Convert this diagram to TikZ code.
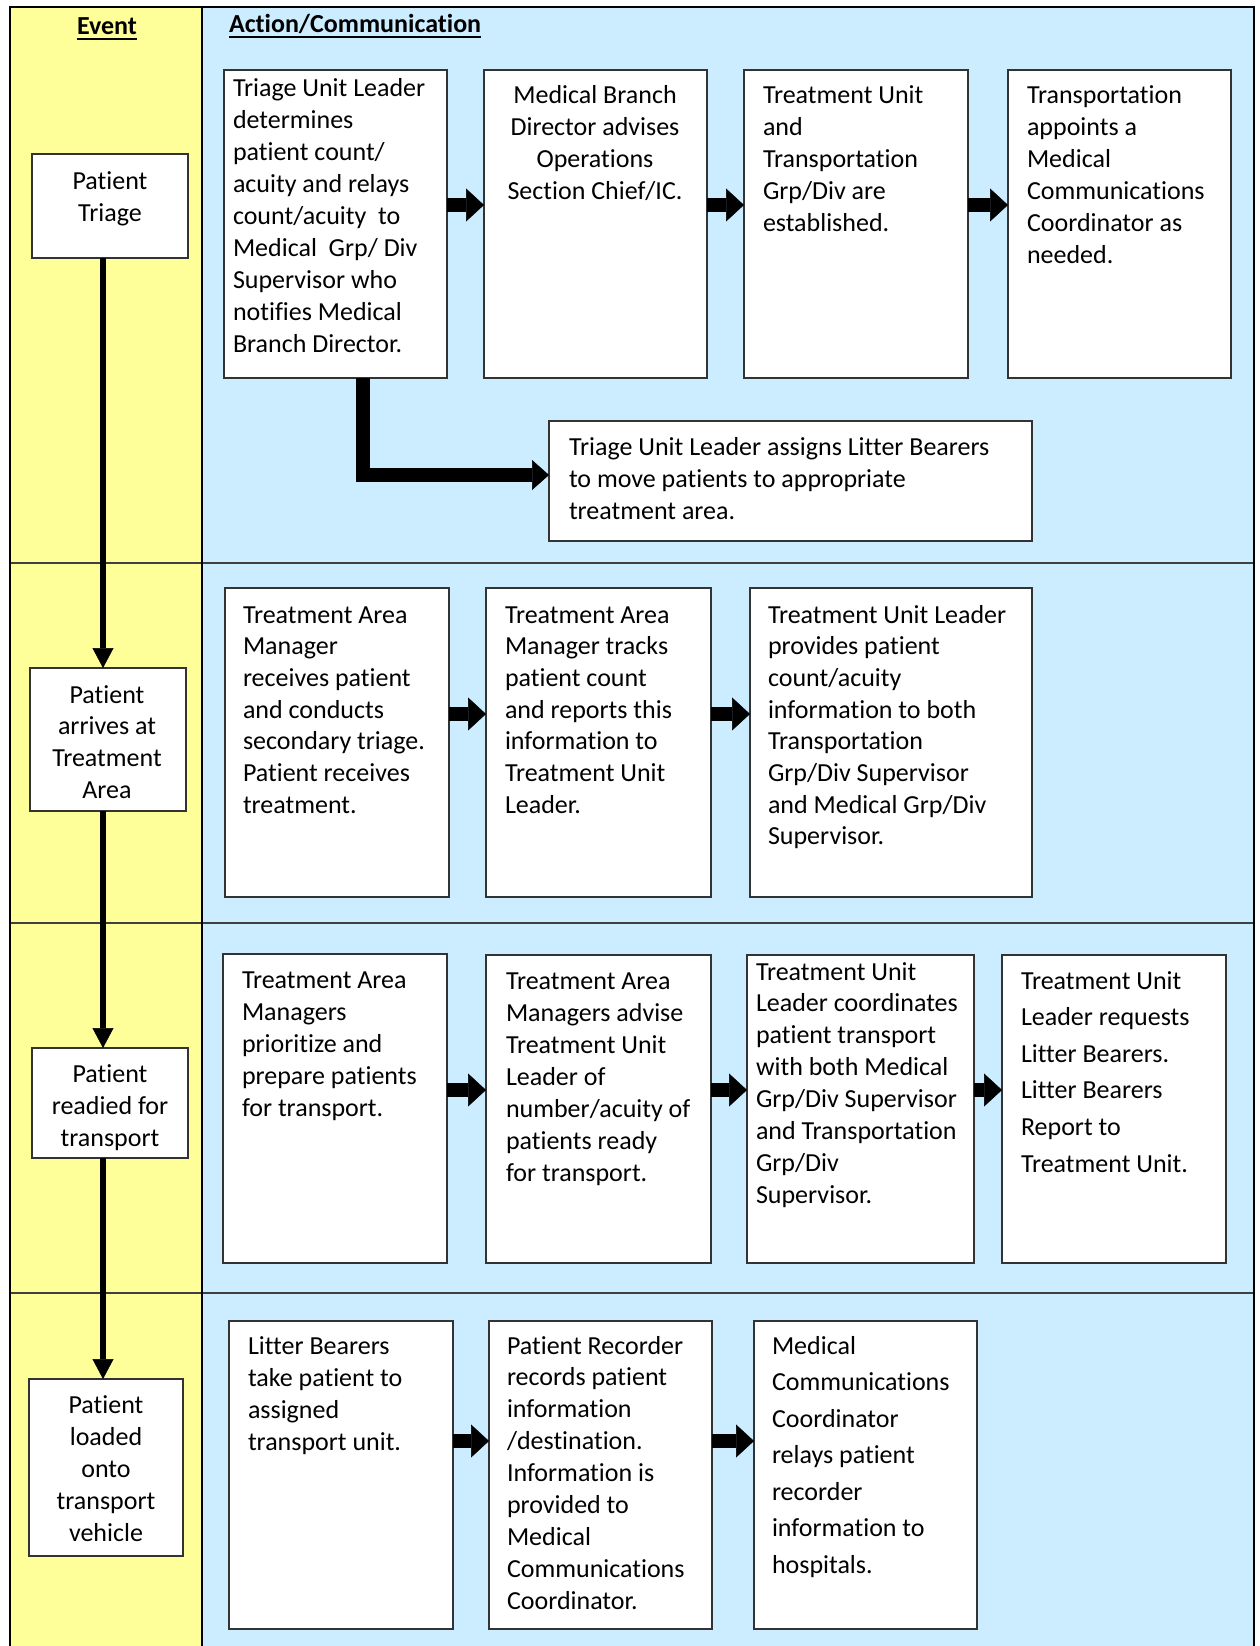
\documentclass[tikz,border=0pt]{standalone}
\usepackage{fontspec}
\setmainfont{Carlito}[Ligatures=NoCommon]
\usetikzlibrary{arrows.meta}
\definecolor{yel}{HTML}{FFFF99}
\definecolor{blu}{HTML}{CCECFF}
\definecolor{rowln}{HTML}{404040}
\newcommand{\LeftTxt}[2]{\parbox[t]{520pt}{\fontsize{26}{#1}\selectfont\raggedright #2}}
\newcommand{\CenTxt}[2]{\parbox[t]{230pt}{\fontsize{26}{#1}\selectfont\centering #2}}
\tikzset{
  box/.style={draw=black!80, line width=1.3pt, fill=white, rectangle, inner sep=0pt, outer sep=0pt, anchor=north west},
  txt/.style={inner sep=0pt, outer sep=0pt},
  ltxt/.style={txt, anchor=base west},
  ctxt/.style={txt, anchor=base},
  harrow/.style={line width=14pt, -{Triangle[width=33pt,length=18pt,line width=0.5pt]}},
  earrow/.style={line width=14pt, line join=miter, -{Triangle[width=30pt,length=17pt,line width=0.5pt]}},
  varrow/.style={line width=6.5pt, -{Triangle[width=21pt,length=20pt,line width=0.5pt]}},
  hdr/.style={txt, font=\bfseries\fontsize{26}{32}\selectfont},
}
\newcommand{\Bx}[5]{\node[box, minimum width=#4pt-#2pt, minimum height=#5pt-#3pt] (#1) at (#2,#3) {};}
\begin{document}
\begin{tikzpicture}[x=1pt,y=-1pt]
\useasboundingbox (0,0) rectangle (1259,1646);
% backgrounds
\fill[white] (0,0) rectangle (1259,1646);
\fill[yel] (10,7) rectangle (202,1650);
\fill[blu] (202,7) rectangle (1254,1650);
% row dividers
\foreach \yy in {563,923,1293} \draw[rowln, line width=1.3pt] (10,\yy) -- (1254,\yy);
% frame
\draw[line width=2.5pt] (10,1650) -- (10,7) -- (1254,7) -- (1254,1650);
\draw[line width=2.2pt] (202,7) -- (202,1650);
% headers
\node[hdr, anchor=base] (hev) at (107,35) {Event};
\node[hdr, anchor=base west] (hac) at (229,33) {Action/Communication};
\draw[line width=2pt] ([yshift=-4pt]hev.base west) -- ([yshift=-4pt]hev.base east);
\draw[line width=2pt] ([yshift=-4pt]hac.base west) -- ([yshift=-4pt]hac.base east);

% event boxes
\Bx{ev1}{32}{154}{188}{258}
\Bx{ev2}{30}{668}{186}{811}
\Bx{ev3}{32}{1048}{188}{1158}
\Bx{ev4}{29}{1379}{183}{1556}
\node[ctxt] (tev1) at (110,189) {\CenTxt{32pt}{Patient\\Triage}};
\node[ctxt] (tev2) at (107,703) {\CenTxt{31.7pt}{Patient\\arrives at\\Treatment\\Area}};
\node[ctxt] (tev3) at (110,1082) {\CenTxt{32pt}{Patient\\readied for\\transport}};
\node[ctxt] (tev4) at (106,1413) {\CenTxt{32pt}{Patient\\loaded\\onto\\transport\\vehicle}};

% row 1
\Bx{b1}{224}{70}{447}{378}
\Bx{b2}{484}{70}{707}{378}
\Bx{b3}{744}{70}{968}{378}
\Bx{b4}{1008}{70}{1231}{378}
\Bx{b5}{549}{421}{1032}{541}
\node[ltxt] (tb1) at (233,96) {\LeftTxt{32pt}{Triage Unit Leader\\determines\\patient count/\\acuity and relays\\count/acuity~ to\\Medical~ Grp/ Div\\Supervisor who\\notifies Medical\\Branch Director.}};
\node[ctxt] (tb2) at (595,103) {\CenTxt{32pt}{Medical Branch\\Director advises\\Operations\\Section Chief/IC.}};
\node[ltxt] (tb3) at (763,103) {\LeftTxt{32pt}{Treatment Unit\\and\\Transportation\\Grp/Div are\\established.}};
\node[ltxt] (tb4) at (1027,103) {\LeftTxt{32pt}{Transportation\\appoints a\\Medical\\Communications\\Coordinator as\\needed.}};
\node[ltxt] (tb5) at (569,455) {\LeftTxt{32pt}{Triage Unit Leader assigns Litter Bearers\\to move patients to appropriate\\treatment area.}};

% row 2
\Bx{c1}{225}{588}{449}{897}
\Bx{c2}{486}{588}{711}{897}
\Bx{c3}{750}{588}{1032}{897}
\node[ltxt] (tc1) at (243,623) {\LeftTxt{31.7pt}{Treatment Area\\Manager\\receives patient\\and conducts\\secondary triage.\\Patient receives\\treatment.}};
\node[ltxt] (tc2) at (505,623) {\LeftTxt{31.7pt}{Treatment Area\\Manager tracks\\patient count\\and reports this\\information to\\Treatment Unit\\Leader.}};
\node[ltxt] (tc3) at (768,623) {\LeftTxt{31.7pt}{Treatment Unit Leader\\provides patient\\count/acuity\\information to both\\Transportation\\Grp/Div Supervisor\\and Medical Grp/Div\\Supervisor.}};

% row 3
\Bx{d1}{223}{954}{447}{1263}
\Bx{d2}{486}{955}{711}{1263}
\Bx{d3}{747}{955}{974}{1263}
\Bx{d4}{1002}{955}{1226}{1263}
\node[ltxt] (td1) at (242,988) {\LeftTxt{32pt}{Treatment Area\\Managers\\prioritize and\\prepare patients\\for transport.}};
\node[ltxt] (td2) at (506,989) {\LeftTxt{32pt}{Treatment Area\\Managers advise\\Treatment Unit\\Leader of\\number/acuity of\\patients ready\\for transport.}};
\node[ltxt] (td3) at (756,980) {\LeftTxt{31.9pt}{Treatment Unit\\Leader coordinates\\patient transport\\with both Medical\\Grp/Div Supervisor\\and Transportation\\Grp/Div\\Supervisor.}};
\node[ltxt] (td4) at (1021,989) {\LeftTxt{36.6pt}{Treatment Unit\\Leader requests\\Litter Bearers.\\Litter Bearers\\Report to\\Treatment Unit.}};

% row 4
\Bx{e1}{229}{1321}{453}{1629}
\Bx{e2}{489}{1321}{712}{1629}
\Bx{e3}{754}{1321}{977}{1629}
\node[ltxt] (te1) at (248,1354) {\LeftTxt{32pt}{Litter Bearers\\take patient to\\assigned\\transport unit.}};
\node[ltxt] (te2) at (507,1354) {\LeftTxt{31.9pt}{Patient Recorder\\records patient\\information\\/destination.\\Information is\\provided to\\Medical\\Communications\\Coordinator.}};
\node[ltxt] (te3) at (772,1354) {\LeftTxt{36.5pt}{Medical\\Communications\\Coordinator\\relays patient\\recorder\\information to\\hospitals.}};

% coordinates for connector levels
\coordinate (ax) at (103,0);
\coordinate (ex) at (363,0);
\coordinate (r1) at (0,205);
\coordinate (r5) at (0,475);
\coordinate (r2) at (0,714);
\coordinate (r3) at (0,1090);
\coordinate (r4) at (0,1441);

% event arrows
\draw[varrow] (ev1.south -| ax) -- (ev2.north -| ax);
\draw[varrow] (ev2.south -| ax) -- (ev3.north -| ax);
\draw[varrow] (ev3.south -| ax) -- (ev4.north -| ax);

% horizontal arrows
\draw[harrow] (b1.east |- r1) -- (b2.west |- r1);
\draw[harrow] (b2.east |- r1) -- (b3.west |- r1);
\draw[harrow] (b3.east |- r1) -- (b4.west |- r1);
\draw[earrow] (b1.south -| ex) |- (b5.west |- r5);
\draw[harrow] (c1.east |- r2) -- (c2.west |- r2);
\draw[harrow] (c2.east |- r2) -- (c3.west |- r2);
\draw[harrow] (d1.east |- r3) -- (d2.west |- r3);
\draw[harrow] (d2.east |- r3) -- (d3.west |- r3);
\draw[harrow] (d3.east |- r3) -- (d4.west |- r3);
\draw[harrow] (e1.east |- r4) -- (e2.west |- r4);
\draw[harrow] (e2.east |- r4) -- (e3.west |- r4);
\end{tikzpicture}
\end{document}
